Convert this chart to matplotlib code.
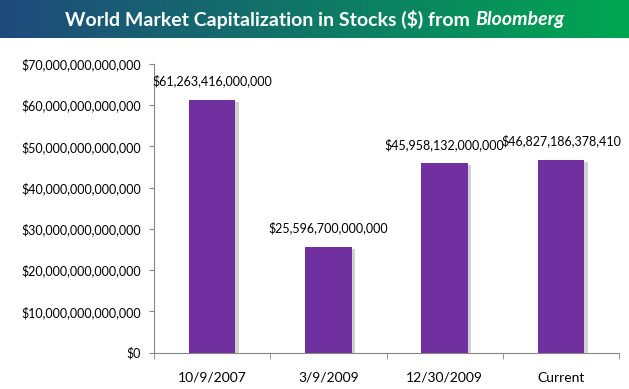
import numpy as np
import matplotlib
matplotlib.use("Agg")
import matplotlib.pyplot as plt
import matplotlib.patheffects as pe
from matplotlib.colors import LinearSegmentedColormap
from matplotlib.ticker import FuncFormatter, MultipleLocator

# data
dates = ["10/9/2007", "3/9/2009", "12/30/2009", "Current"]
market_cap = [61263416000000, 25596700000000, 45958132000000, 46827186378410]

plt.rcParams['font.family'] = ['Lato', 'DejaVu Sans']

fig = plt.figure(figsize=(6.29, 3.89), dpi=100)

# title banner with blue -> green gradient
banner = fig.add_axes([0, 1 - 38/389, 1, 38/389])
grad = LinearSegmentedColormap.from_list("bg", ["#1f4a7c", "#00a651"])
banner.imshow(np.linspace(0, 1, 256).reshape(1, -1), cmap=grad, aspect="auto",
              extent=[0, 1, 0, 1])
banner.set_xlim(0, 1)
banner.set_ylim(0, 1)
banner.set_axis_off()
split = 0.747
banner.text(split, 0.48, "World Market Capitalization in Stocks ($) from",
            ha="right", va="center", color="white", fontsize=14, fontweight="bold")
banner.text(split + 0.008, 0.48, "Bloomberg", ha="left", va="center", color="white",
            fontsize=14, fontweight="bold", fontstyle="italic")

ax = fig.add_axes([154/629, 36.5/389, 465/629, 288.5/389])
x = np.arange(len(dates))
bars = ax.bar(x, market_cap, width=0.4, color="#7030a0", zorder=3)
for b in bars:
    b.set_path_effects([pe.SimplePatchShadow(offset=(2.5, -1.5), shadow_rgbFace="#999999", alpha=0.45),
                        pe.Normal()])

for xi, v in zip(x, market_cap):
    ax.text(xi, v + 3.0e12, "${:,}".format(v), ha="center", va="bottom",
            fontsize=9, color="black")

ax.set_xlim(-0.5, len(dates) - 0.5)
ax.set_ylim(0, 70e12)
ax.yaxis.set_major_locator(MultipleLocator(10e12))
ax.yaxis.set_major_formatter(FuncFormatter(lambda v, p: "${:,}".format(int(round(v)))))
ax.set_xticks(x)
ax.set_xticklabels(dates)
ax.set_xticks(np.arange(-0.5, len(dates)), minor=True)
ax.tick_params(axis="x", which="major", length=0, pad=14, labelsize=10)
ax.tick_params(axis="x", which="minor", length=4, color="#868686")
ax.tick_params(axis="y", length=3.5, color="#868686", labelsize=9, pad=6)

for s in ["top", "right"]:
    ax.spines[s].set_visible(False)
for s in ["left", "bottom"]:
    ax.spines[s].set_color("#868686")

fig.savefig("out.png", dpi=100)
